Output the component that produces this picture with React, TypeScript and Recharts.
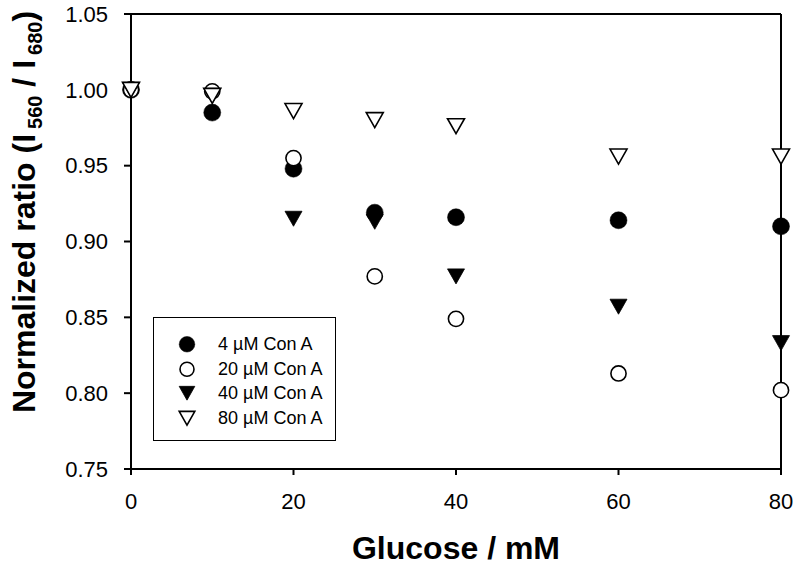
import React from 'react';
import { ScatterChart, Scatter, XAxis, YAxis, ReferenceLine, Legend } from 'recharts';

const glucose = [0, 10, 20, 30, 40, 60, 80];
const conA4 = [1.0, 0.985, 0.948, 0.919, 0.916, 0.914, 0.910];
const conA20 = [1.0, 0.999, 0.955, 0.877, 0.849, 0.813, 0.802];
const conA40 = [1.0, 0.996, 0.915, 0.913, 0.877, 0.857, 0.833];
const conA80 = [1.0, 0.996, 0.986, 0.980, 0.976, 0.956, 0.956];
const seriesLabels = ['4 \u00b5M Con A', '20 \u00b5M Con A', '40 \u00b5M Con A', '80 \u00b5M Con A'];
const xTicks = [0, 20, 40, 60, 80];
const yTicks = [0.75, 0.8, 0.85, 0.9, 0.95, 1.0, 1.05];

const FONT = '"Liberation Sans", Arial, Helvetica, sans-serif';

const toPoints = (vals: number[]) => glucose.map((g, i) => ({ x: g, y: vals[i] }));

type Kind = 'filledCircle' | 'openCircle' | 'filledTri' | 'openTri';

const Marker = ({ kind, cx, cy, scale = 1 }: { kind: Kind; cx: number; cy: number; scale?: number }) => {
  if (kind === 'filledCircle') return <circle cx={cx} cy={cy} r={8.5 * scale} fill="#000" stroke="#000" strokeWidth={0.5} />;
  if (kind === 'openCircle') return <circle cx={cx} cy={cy} r={7.6 * scale} fill="#fff" stroke="#000" strokeWidth={1.6} />;
  const w = 8.5 * scale;
  const h = 7.5 * scale;
  const d = `M${cx - w},${cy - h} L${cx + w},${cy - h} L${cx},${cy + h} Z`;
  if (kind === 'filledTri') return <path d={d} fill="#000" stroke="#000" strokeWidth={0.8} strokeLinejoin="miter" />;
  return <path d={d} fill="#fff" stroke="#000" strokeWidth={1.6} strokeLinejoin="miter" />;
};

const series: { name: string; vals: number[]; kind: Kind }[] = [
  { name: seriesLabels[0], vals: conA4, kind: 'filledCircle' },
  { name: seriesLabels[1], vals: conA20, kind: 'openCircle' },
  { name: seriesLabels[2], vals: conA40, kind: 'filledTri' },
  { name: seriesLabels[3], vals: conA80, kind: 'openTri' },
];

const renderLegend = () => (
  <div
    style={{
      width: 183,
      height: 124,
      boxSizing: 'border-box',
      border: '1.5px solid #000',
      background: '#fff',
      paddingTop: 14,
      fontFamily: FONT,
      fontSize: 18,
      color: '#000',
    }}
  >
    {series.map((s) => (
      <div key={s.name} style={{ height: 24.5, display: 'flex', alignItems: 'center' }}>
        <svg width={64} height={24.5} style={{ flex: '0 0 auto' }}>
          <Marker kind={s.kind} cx={33} cy={12.25} scale={0.92} />
        </svg>
        <span style={{ lineHeight: '24.5px', whiteSpace: 'nowrap' }}>{s.name}</span>
      </div>
    ))}
  </div>
);

const YLabel = () => (
  <text
    transform="translate(35, 212) rotate(-90)"
    textAnchor="middle"
    fontFamily={FONT}
    fontWeight="bold"
    fontSize={32}
    fill="#000"
  >
    <tspan>Normalized ratio (I</tspan>
    <tspan fontSize={20} dx={5} dy={7}>560</tspan>
    <tspan fontSize={32} dy={-7}> / I</tspan>
    <tspan fontSize={20} dx={5} dy={7}>680</tspan>
    <tspan fontSize={32} dy={-7}>)</tspan>
  </text>
);

const XLabel = (props: any) => {
  const vb = props.viewBox || { x: 131, width: 650 };
  return (
    <text
      x={vb.x + vb.width / 2}
      y={559}
      textAnchor="middle"
      fontFamily={FONT}
      fontWeight="bold"
      fontSize={32}
      fill="#000"
    >
      Glucose / mM
    </text>
  );
};

export default function App() {
  return (
    <div style={{ position: 'absolute', left: 0, top: 0, background: '#fff' }}>
      <ScatterChart width={800} height={568} margin={{ top: 14, right: 19, bottom: 39, left: 0 }}>
        <XAxis
          type="number"
          dataKey="x"
          domain={[0, 80]}
          ticks={xTicks}
          interval={0}
          height={60}
          stroke="#000"
          strokeWidth={2}
          tickSize={6}
          tickMargin={18}
          tick={{ fill: '#000', fontFamily: FONT, fontSize: 22 }}
          tickLine={{ stroke: '#000', strokeWidth: 2 }}
          label={<XLabel />}
        />
        <YAxis
          type="number"
          dataKey="y"
          domain={[0.75, 1.05]}
          ticks={yTicks}
          interval={0}
          width={131}
          stroke="#000"
          strokeWidth={2}
          tickSize={7}
          tickMargin={16}
          tickFormatter={(v: number) => v.toFixed(2)}
          tick={{ fill: '#000', fontFamily: FONT, fontSize: 22 }}
          tickLine={{ stroke: '#000', strokeWidth: 2 }}
          label={<YLabel />}
        />
        <ReferenceLine y={1.05} stroke="#000" strokeWidth={2} />
        <ReferenceLine x={80} stroke="#000" strokeWidth={2} />
        {series.map((s) => (
          <Scatter
            key={s.name}
            name={s.name}
            data={toPoints(s.vals)}
            isAnimationActive={false}
            fill="#000"
            shape={(p: any) => <Marker kind={s.kind} cx={p.cx} cy={p.cy} />}
          />
        ))}
        <Legend
          layout="vertical"
          align="center"
          verticalAlign="middle"
          content={renderLegend}
          wrapperStyle={{ left: 153, top: 317, width: 183, height: 124 }}
        />
      </ScatterChart>
    </div>
  );
}
